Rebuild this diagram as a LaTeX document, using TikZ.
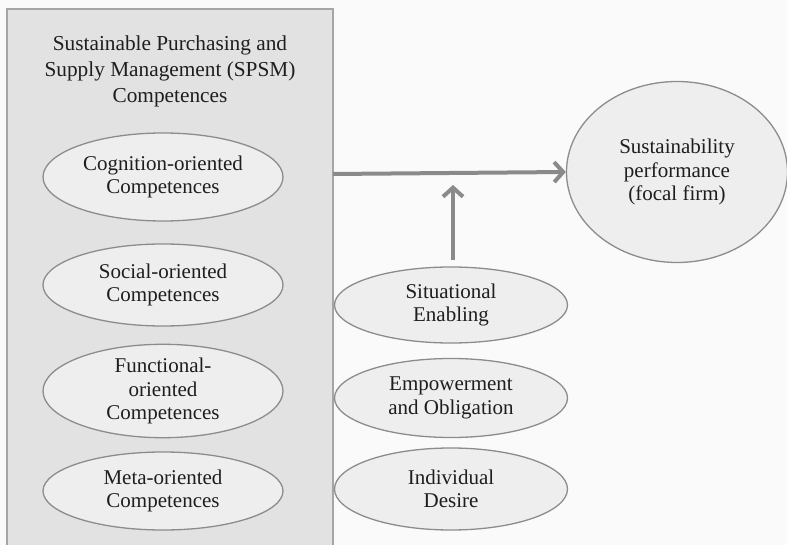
\documentclass[tikz,border=0pt]{standalone}
\usepackage{fontspec}
\setmainfont{Liberation Serif}
\usepackage{tikz}
\usetikzlibrary{shapes,arrows.meta,positioning}

\definecolor{panelgray}{RGB}{226,226,226}
\definecolor{panelline}{RGB}{165,165,165}
\definecolor{ovalfill}{RGB}{238,238,238}
\definecolor{ovalline}{RGB}{140,140,140}
\definecolor{arrowgray}{RGB}{138,138,138}
\definecolor{inkgray}{RGB}{30,30,30}

\begin{document}
\begin{tikzpicture}[x=1pt, y=-1pt,
    every node/.style={font=\fontsize{21}{23.5}\selectfont, text=inkgray, align=center},
    comp/.style={ellipse, draw=ovalline, line width=1.3pt, fill=ovalfill, inner sep=0pt,
                 minimum width=240pt, minimum height=82pt},
    factor/.style={ellipse, draw=ovalline, line width=1.3pt, fill=ovalfill, inner sep=0pt,
                   minimum width=233pt, minimum height=79pt},
    flow/.style={draw=arrowgray, line width=4pt,
                 -{Straight Barb[length=9pt, width=20pt, line width=4pt]}}]
    \clip (0,0) rectangle (787,545);
    \fill[white!98!black] (0,0) rectangle (787,545);

    % SPSM panel
    \draw[fill=panelgray, draw=panelline, line width=1.5pt] (7,9) rectangle (333,600);
    \node[font=\fontsize{21.3}{26}\selectfont] (spsm) at (170,71)
        {Sustainable Purchasing and\\Supply Management (SPSM)\\Competences};

    % Competences
    \node[comp, minimum height=88pt] (cognition) at (163,177) {Cognition-oriented\\Competences};
    \node[comp] (social) at (163,285) {Social-oriented\\Competences};
    \node[comp] (functional) at (163,391) {Functional-\\oriented\\Competences};
    \node[comp, minimum height=78pt] (meta) at (163,491) {Meta-oriented\\Competences};

    % Enabling factors
    \node[factor, minimum height=76pt] (situational) at (451,305) {Situational\\Enabling};
    \node[factor] (empower) at (451,398) {Empowerment\\and Obligation};
    \node[factor, minimum height=82pt] (desire) at (451,489) {Individual\\Desire};

    % Outcome
    \node[ellipse, draw=ovalline, line width=1.3pt, fill=ovalfill, inner sep=0pt,
          minimum width=221pt, minimum height=181pt] (perf) at (677,172)
          {Sustainability\\performance\\(focal firm)};

    % Links
    \coordinate (panelout) at (333,174);
    \coordinate (moderate) at (453,185);
    \draw[flow] (panelout) -- (perf.west);
    \draw[flow] (situational.north -| moderate) ++(0,-6) -- (moderate);
\end{tikzpicture}
\end{document}
